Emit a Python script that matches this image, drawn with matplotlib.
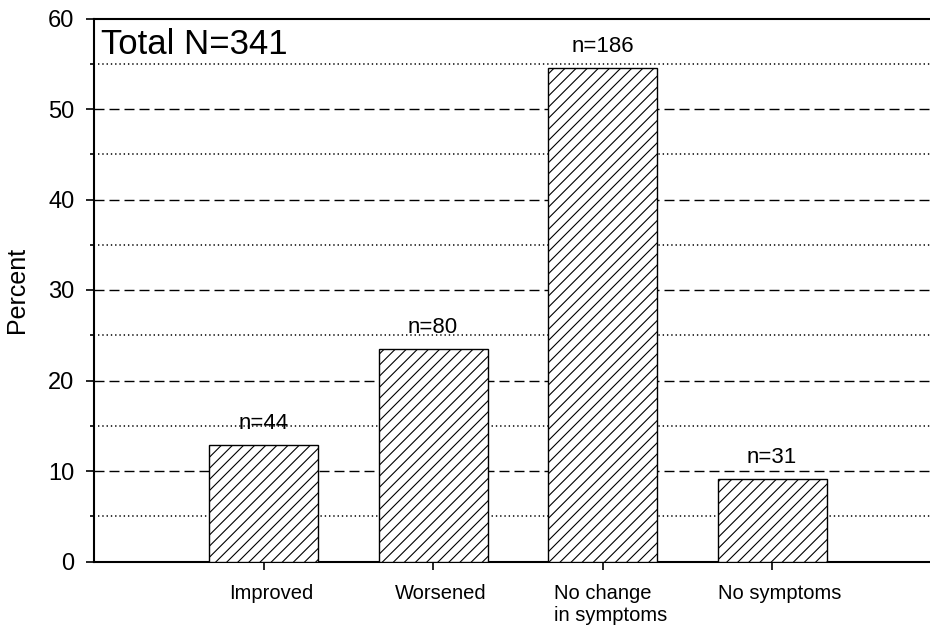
import matplotlib.pyplot as plt
import matplotlib.transforms as mtransforms

plt.rcParams["font.family"] = ["Liberation Sans", "DejaVu Sans"]
plt.rcParams["hatch.linewidth"] = 0.8

# Values
categories = ["Improved", "Worsened", "No change\nin symptoms", "No symptoms"]
percents = [12.9, 23.5, 54.5, 9.1]
counts = ["n=44", "n=80", "n=186", "n=31"]
total_label = "Total N=341"

fig = plt.figure(figsize=(9.3, 6.27), dpi=100)
ax = fig.add_axes([94 / 930, 65.5 / 627, 836 / 930, 543 / 627])

x = [1, 2, 3, 4]
ax.bar(x, percents, width=0.643, color="white", edgecolor="black",
       linewidth=1.0, hatch="///", zorder=3)

# Grid: dashed at tens, dotted at fives
for y in [10, 20, 30, 40, 50]:
    ax.axhline(y, color="black", linewidth=1.0, linestyle=(0, (7.2, 3.6)), zorder=1)
for y in [5, 15, 25, 35, 45, 55]:
    ax.axhline(y, xmin=0.005, color="black", linewidth=1.1,
               linestyle=(0, (0.9, 1.9)), zorder=1)

for xi, p, c in zip(x, percents, counts):
    ax.annotate(c, (xi, p), xytext=(0, 8), textcoords="offset points",
                ha="center", va="bottom", fontsize=16, zorder=4)

ax.text(0.008, 0.982, total_label, transform=ax.transAxes, ha="left", va="top",
        fontsize=25, zorder=4)

ax.set_xlim(0, 4.932)
ax.set_ylim(0, 60)
ax.set_yticks([0, 10, 20, 30, 40, 50, 60])
ax.set_yticks([5, 15, 25, 35, 45, 55], minor=True)
ax.tick_params(axis="y", which="major", direction="out", length=6, width=1.2,
               labelsize=17, pad=8)
ax.tick_params(axis="y", which="minor", direction="out", length=3.2, width=1.2)
ax.set_xticks(x)
ax.set_xticklabels(categories, fontsize=14.5, multialignment="left")
ax.tick_params(axis="x", direction="out", length=6, width=1.2, pad=10)
offset = mtransforms.ScaledTranslation(8 / 100, 0, fig.dpi_scale_trans)
for lab in ax.get_xticklabels():
    lab.set_transform(lab.get_transform() + offset)

ax.set_ylabel("Percent", fontsize=18, labelpad=14)

for side in ["left", "bottom", "top"]:
    ax.spines[side].set_linewidth(1.5)
ax.spines["right"].set_visible(False)

fig.savefig("out.png", dpi=100)
